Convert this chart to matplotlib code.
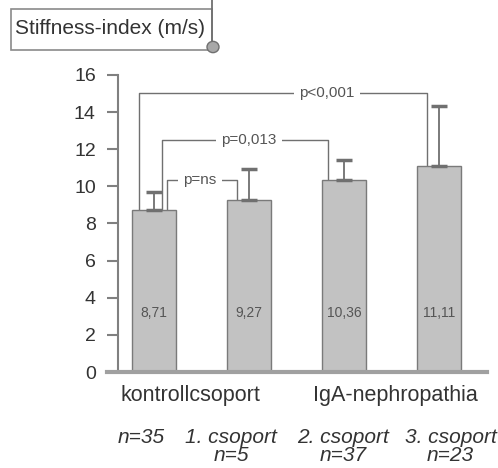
import numpy as np
import matplotlib.pyplot as plt
from matplotlib.patches import Rectangle, Circle
from matplotlib.transforms import blended_transform_factory

plt.rcParams['font.family'] = ['Liberation Sans', 'DejaVu Sans']

# mean stiffness index per group, with the upward SD whiskers
means = [8.71, 9.27, 10.36, 11.11]
sds = [0.97, 1.65, 1.06, 3.24]
value_labels = ['8,71', '9,27', '10,36', '11,11']

group_labels = ['kontrollcsoport', 'IgA-nephropathia']
group_pos = [0.38, 2.54]
sub_labels = ['n=35', '1. csoport\nn=5', '2. csoport\nn=37', '3. csoport\nn=23']
sub_pos = [-0.13, 0.81, 1.99, 3.12]

# significance brackets: (left leg x, right leg x, left bar, right bar, level, text, text x)
br_left = [-0.158, 0.084, 0.137]
br_right = [2.874, 1.83, 0.874]
br_from = [0, 0, 0]
br_to = [3, 2, 1]
br_level = [15.0, 12.5, 10.35]
br_text = ['p<0,001', 'p=0,013', 'p=ns']
br_text_x = [1.82, 1.0, 0.48]

line_col = '#707070'

fig = plt.figure(figsize=(4.98, 4.68), dpi=100)
ax = fig.add_axes([0.237, 0.205, 0.741, 0.635])

x = np.arange(len(means))
ax.bar(x, means, width=0.46, color='#c2c2c2', edgecolor='#7a7a7a', linewidth=1.0, zorder=2)
ax.errorbar(x, means, yerr=[np.zeros(len(sds)), sds], fmt='none', ecolor=line_col,
            elinewidth=1.3, capsize=6, capthick=2.5, zorder=3)

for i, lab in enumerate(value_labels):
    ax.text(x[i], 3.2, lab, ha='center', va='center', fontsize=10, color='#555555', zorder=4)

for i in range(len(br_text)):
    xl, xr, lvl = br_left[i], br_right[i], br_level[i]
    ax.plot([xl, xl, xr, xr], [means[br_from[i]], lvl, lvl, means[br_to[i]]],
            color=line_col, linewidth=1.0, zorder=1)
    ax.text(br_text_x[i], lvl, br_text[i], ha='center', va='center', fontsize=11,
            color='#555555', zorder=2,
            bbox=dict(facecolor='white', edgecolor='none', pad=4))

ax.set_xlim(-0.379, 3.505)
ax.set_ylim(0, 16)
ax.set_yticks(np.arange(0, 17, 2))
ax.set_xticks([])
for side in ['top', 'right', 'bottom']:
    ax.spines[side].set_visible(False)
ax.spines['left'].set_color('#808080')
ax.spines['left'].set_linewidth(1.5)
ax.tick_params(axis='y', length=8, width=1.5, color='#808080', labelsize=14,
               labelcolor='#333333', pad=8)

# thick baseline running under the bars and past the y axis
ax.plot([-0.495, 3.505], [0, 0], color='#a0a0a0', linewidth=3, clip_on=False, zorder=5)

trans = blended_transform_factory(ax.transData, fig.transFigure)
for pos, lab in zip(group_pos, group_labels):
    ax.text(pos, 1 - 395 / 468, lab, transform=trans, ha='center', va='center',
            fontsize=15.5, color='#333333')
for pos, lab in zip(sub_pos, sub_labels):
    ax.text(pos, 1 - 428 / 468, lab, transform=trans, ha='center', va='top',
            fontsize=15, style='italic', color='#333333', linespacing=0.95)

# boxed title in the upper left corner
fig.patches.append(Rectangle((11 / 498, 1 - 50 / 468), 201 / 498, 41 / 468,
                             transform=fig.transFigure, facecolor='white',
                             edgecolor='#8a8a8a', linewidth=1.2))
fig.lines.append(plt.Line2D([212 / 498, 212 / 498], [1 - 46 / 468, 1.0],
                            transform=fig.transFigure, color='#707070', linewidth=1.3))
fig.patches.append(Circle((213 / 498, 1 - 47 / 468), 6 / 498, transform=fig.transFigure,
                          facecolor='#a8a8a8', edgecolor='#707070', linewidth=1.0, zorder=5))
fig.text(15 / 498, 1 - 29 / 468, 'Stiffness-index (m/s)', ha='left', va='center',
         fontsize=15, color='#333333')

fig.savefig('out.png', dpi=100)
